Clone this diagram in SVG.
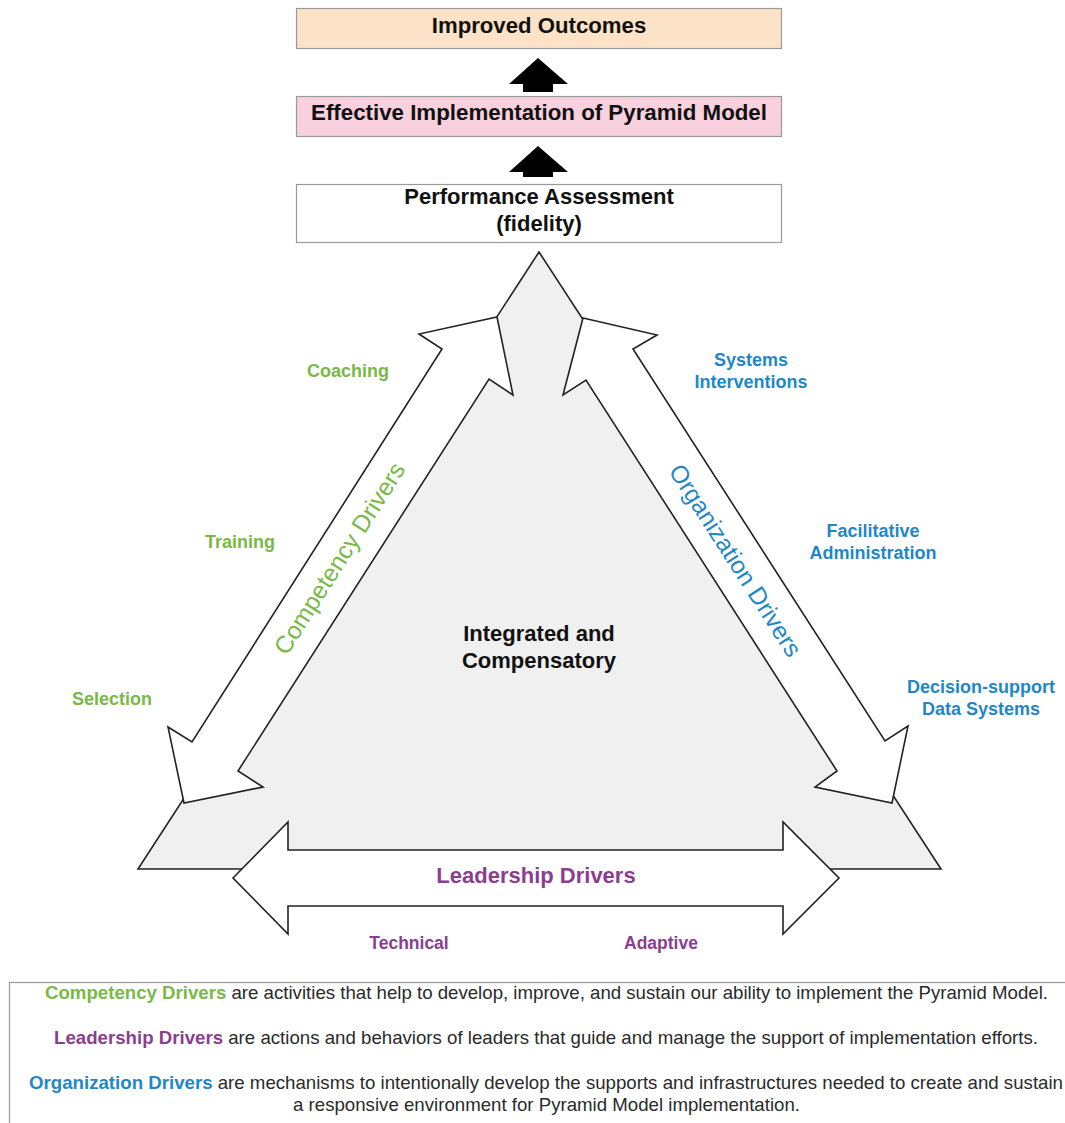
<svg xmlns="http://www.w3.org/2000/svg" width="1065" height="1123" viewBox="0 0 1065 1123">
<style>
.box{stroke:#9a9a9a;stroke-width:1.2}
.shape{stroke:#222;stroke-width:1.6;stroke-linejoin:miter}
.t{font-family:"Liberation Sans",Arial,sans-serif}
.b{font-weight:bold}
.c{text-anchor:middle}
.green{fill:#78b947}
.blue{fill:#1f87c7}
.purple{fill:#8b3e8f}
.dark{fill:#111}
.leg{font-size:18.5px;fill:#2a2a2a}
</style>
<rect width="1065" height="1123" fill="#ffffff"/>

<g id="improved-outcomes">
<rect class="box" x="296.5" y="8.5" width="485" height="40" fill="#fce3c8"/>
<text class="t b c dark" x="539" y="33" font-size="22.2">Improved Outcomes</text>
</g>

<g id="effective-implementation">
<rect class="box" x="296.5" y="96.5" width="485" height="40" fill="#f8d0de"/>
<text class="t b c dark" x="539" y="120" font-size="22.3">Effective Implementation of Pyramid Model</text>
</g>

<g id="performance-assessment">
<rect class="box" x="296.5" y="184.5" width="485" height="58" fill="#ffffff"/>
<text class="t b c dark" x="539" y="204" font-size="22">Performance Assessment</text>
<text class="t b c dark" x="539" y="231" font-size="22">(fidelity)</text>
</g>

<g id="connectors">
<polygon points="538,58 568,84 553,84 553,92 523,92 523,84 509,84" fill="#000"/>
<polygon points="538,146 568,172 553,172 553,177 523,177 523,172 509,172" fill="#000"/>
</g>

<g id="integrated-triangle">
<polygon class="shape" points="539,252 941,869 138,869" fill="#f0f0f0"/>
<text class="t b c dark" x="539" y="641" font-size="22">Integrated and</text>
<text class="t b c dark" x="539" y="668" font-size="22">Compensatory</text>
</g>

<g id="competency-drivers">
<polygon class="shape" fill="#ffffff" points="497,317 513,395 489,379 238,771 263,787 184,803 168,727 192,742 442,349 419,334"/>
<text class="t c green" x="339" y="567" font-size="24.5" transform="rotate(-57.5 339 558)">Competency Drivers</text>
<text class="t b c green" x="348" y="377" font-size="18">Coaching</text>
<text class="t b c green" x="240" y="548" font-size="18">Training</text>
<text class="t b c green" x="112" y="705" font-size="18">Selection</text>
</g>

<g id="organization-drivers">
<polygon class="shape" fill="#ffffff" points="583,318 657,335 633,349 885,741 908,726 892,803 815,787 837,771 586,380 563,395"/>
<text class="t c blue" x="736" y="569" font-size="24.5" transform="rotate(57.3 736 560)">Organization Drivers</text>
<text class="t b c blue" x="751" y="366" font-size="18">Systems</text>
<text class="t b c blue" x="751" y="388" font-size="18">Interventions</text>
<text class="t b c blue" x="873" y="537" font-size="18">Facilitative</text>
<text class="t b c blue" x="873" y="559" font-size="18">Administration</text>
<text class="t b c blue" x="981" y="693" font-size="18">Decision-support</text>
<text class="t b c blue" x="981" y="715" font-size="18">Data Systems</text>
</g>

<g id="leadership-drivers">
<polygon class="shape" fill="#ffffff" points="233,878 288,822 288,850 783,850 783,822 839,878 783,934 783,906 288,906 288,934"/>
<text class="t b c purple" x="536" y="883" font-size="22">Leadership Drivers</text>
<text class="t b c purple" x="409" y="949" font-size="17.5">Technical</text>
<text class="t b c purple" x="661" y="949" font-size="17.5">Adaptive</text>
</g>

<g id="legend">
<rect x="9.5" y="982.5" width="1075" height="160" fill="#ffffff" stroke="#9a9a9a" stroke-width="1.2"/>
<text class="t leg" x="45" y="999" textLength="1003" lengthAdjust="spacingAndGlyphs"><tspan class="b green">Competency Drivers</tspan> are activities that help to develop, improve, and sustain our ability to implement the Pyramid Model.</text>
<text class="t leg" x="54" y="1044" textLength="984" lengthAdjust="spacingAndGlyphs"><tspan class="b purple">Leadership Drivers</tspan> are actions and behaviors of leaders that guide and manage the support of implementation efforts.</text>
<text class="t leg" x="29" y="1089" textLength="1034" lengthAdjust="spacingAndGlyphs"><tspan class="b blue">Organization Drivers</tspan> are mechanisms to intentionally develop the supports and infrastructures needed to create and sustain</text>
<text class="t leg" x="293" y="1111" textLength="507" lengthAdjust="spacingAndGlyphs">a responsive environment for Pyramid Model implementation.</text>
</g>
</svg>
